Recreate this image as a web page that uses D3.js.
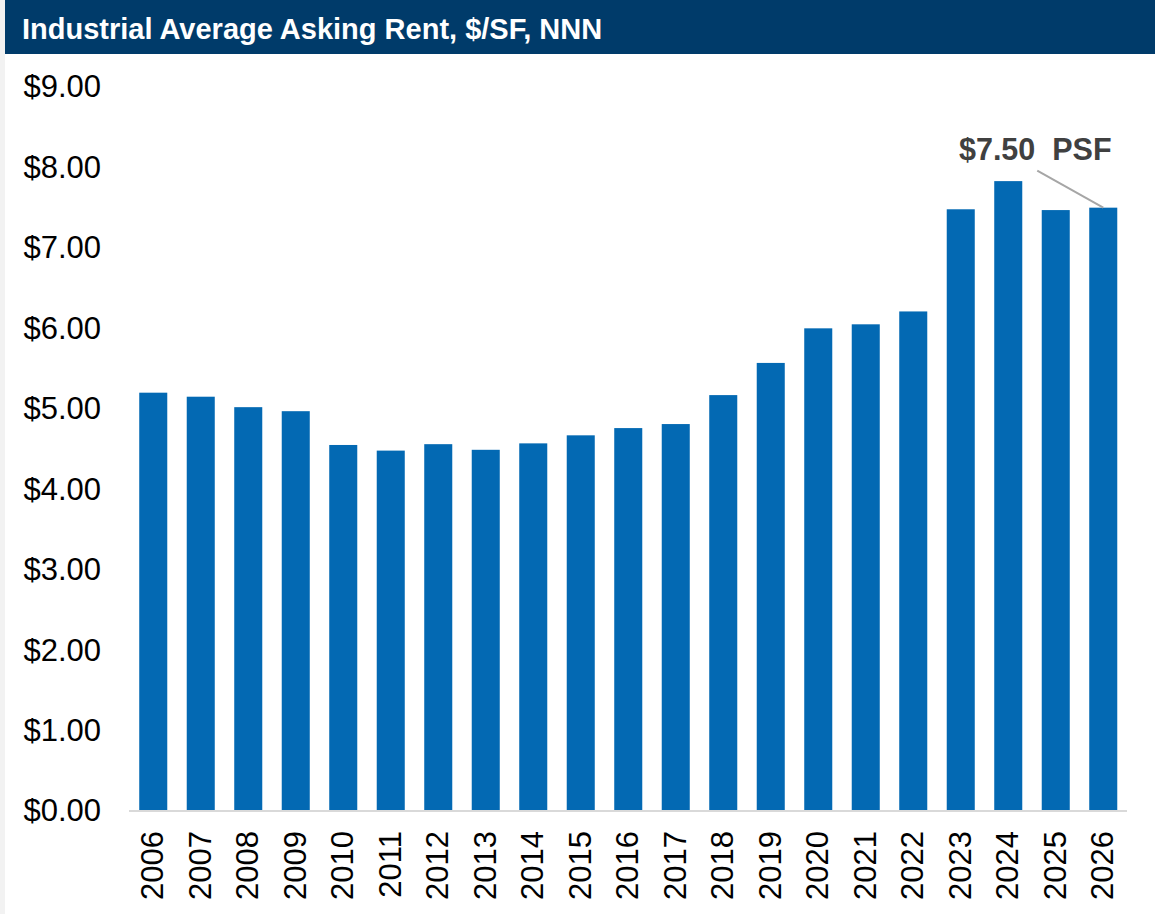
<!DOCTYPE html>
<html>
<head>
<meta charset="utf-8">
<script src="https://cdn.jsdelivr.net/npm/d3@7"></script>
<style>
  html, body { margin: 0; padding: 0; background: #f2f2f2; }
  svg { display: block; font-family: "Liberation Sans", Arial, sans-serif; }
</style>
</head>
<body>
<div id="chart"></div>
<script>
const years = ["2006","2007","2008","2009","2010","2011","2012","2013","2014","2015","2016",
  "2017","2018","2019","2020","2021","2022","2023","2024","2025","2026"]
const rents = [5.20, 5.15, 5.02, 4.97, 4.55, 4.48, 4.56, 4.49, 4.57, 4.67, 4.76,
  4.81, 5.17, 5.57, 6.00, 6.05, 6.21, 7.48, 7.83, 7.47, 7.50]
const yTicks = [0, 1, 2, 3, 4, 5, 6, 7, 8, 9]
const title = "Industrial Average Asking Rent, $/SF, NNN"
const callout = "$7.50  PSF"

const width = 1155
const height = 914

const svg = d3.select("#chart").append("svg")
  .attr("width", width)
  .attr("height", height)

// white panel, leaves thin gray strip on the left
svg.append("rect")
  .attr("x", 5).attr("y", 0)
  .attr("width", width - 5).attr("height", height)
  .attr("fill", "#ffffff")

// header bar
svg.append("rect")
  .attr("x", 5).attr("y", 0)
  .attr("width", width - 5).attr("height", 54)
  .attr("fill", "#003b6a")

svg.append("text")
  .attr("x", 22).attr("y", 39)
  .attr("fill", "#ffffff")
  .attr("font-size", 29)
  .attr("font-weight", "bold")
  .text(title)

const xScale = d3.scaleBand()
  .domain(years)
  .range([129.5, 1127])
  .paddingInner(0.41)
  .paddingOuter(0.205)

const yScale = d3.scaleLinear()
  .domain([0, 9])
  .range([811, 87])

// y tick labels (no axis line)
const yAxis = d3.axisLeft(yScale)
  .tickValues(yTicks)
  .tickSize(0)
  .tickPadding(0)
  .tickFormat(d => "$" + d3.format(".2f")(d))

const yg = svg.append("g")
  .attr("transform", "translate(101,0)")
  .call(yAxis)
yg.select(".domain").remove()
yg.selectAll("text")
  .attr("font-size", 31)
  .attr("font-family", "Liberation Sans, Arial, sans-serif")
  .attr("fill", "#000000")

// bars
svg.append("g")
  .selectAll("rect")
  .data(rents)
  .enter()
  .append("rect")
    .attr("x", (d, i) => xScale(years[i]))
    .attr("y", d => yScale(d))
    .attr("width", xScale.bandwidth())
    .attr("height", d => yScale(0) - yScale(d))
    .attr("fill", "#0369b3")

// x axis baseline
svg.append("line")
  .attr("x1", 129).attr("x2", 1127)
  .attr("y1", yScale(0)).attr("y2", yScale(0))
  .attr("stroke", "#d9d9d9")
  .attr("stroke-width", 2)

// x labels, rotated
const xAxis = d3.axisBottom(xScale).tickSize(0).tickPadding(0)
const xg = svg.append("g")
  .attr("transform", `translate(0,${yScale(0)})`)
  .call(xAxis)
xg.select(".domain").remove()
xg.selectAll("text")
  .attr("font-size", 31)
  .attr("font-family", "Liberation Sans, Arial, sans-serif")
  .attr("fill", "#000000")
  .attr("text-anchor", "end")
  .attr("dy", "0.35em")
  .attr("transform", "translate(-1,20) rotate(-90)")

// callout for last year
const last = years.length - 1
const px = xScale(years[last]) + xScale.bandwidth() / 2
const py = yScale(rents[last])

svg.append("line")
  .attr("x1", px - 66).attr("y1", py - 37)
  .attr("x2", px).attr("y2", py)
  .attr("stroke", "#a6a6a6")
  .attr("stroke-width", 2)

svg.append("text")
  .attr("x", px - 68).attr("y", py - 48)
  .attr("text-anchor", "middle")
  .attr("font-size", 30.5)
  .attr("font-weight", "bold")
  .attr("fill", "#404040")
  .style("white-space", "pre")
  .text(callout)
</script>
</body>
</html>
